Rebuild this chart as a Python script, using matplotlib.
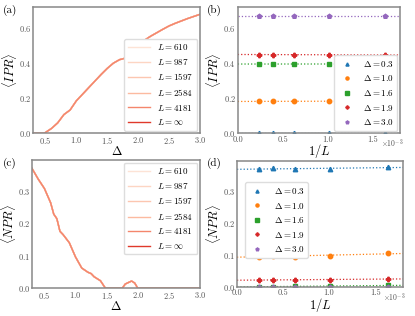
import numpy as np
import matplotlib
matplotlib.use("Agg")
import matplotlib.pyplot as plt

plt.rcParams['font.family'] = 'serif'
plt.rcParams['font.serif'] = ['cmr10', 'DejaVu Serif']
plt.rcParams['mathtext.fontset'] = 'cm'
plt.rcParams['axes.formatter.use_mathtext'] = True
plt.rcParams['axes.unicode_minus'] = False

# system sizes
sizes = [610, 987, 1597, 2584, 4181]
size_labels = [r'$L=610$', r'$L=987$', r'$L=1597$', r'$L=2584$', r'$L=4181$', r'$L=\infty$']
size_colors = ['#fde3d6', '#fdd5c3', '#fcc6b0', '#fcbaa0', '#f4866c', '#e0392b']

# panel (a): <IPR> vs Delta
delta_a = [0.3, 0.4, 0.48, 0.6, 0.7, 0.8, 0.9, 1.0, 1.2, 1.4, 1.5, 1.6, 1.7, 1.75, 1.8,
           1.9, 2.0, 2.05, 2.1, 2.2, 2.4, 2.5, 2.6, 2.8, 3.0]
ipr_a = [0.0, 0.0, 0.0, 0.028, 0.06, 0.107, 0.133, 0.185, 0.26, 0.335, 0.37, 0.40, 0.42,
         0.424, 0.43, 0.45, 0.47, 0.515, 0.53, 0.553, 0.593, 0.612, 0.627, 0.654, 0.678]

# panel (c): <NPR> vs Delta
delta_c = [0.3, 0.4, 0.5, 0.6, 0.65, 0.7, 0.75, 0.8, 0.9, 1.0, 1.1, 1.2, 1.25, 1.3, 1.4,
           1.48, 1.6, 1.75, 1.8, 1.9, 1.95, 2.0, 2.5, 3.0]
npr_c = [0.369, 0.336, 0.307, 0.263, 0.228, 0.214, 0.175, 0.165, 0.14, 0.096, 0.062, 0.049,
         0.045, 0.035, 0.023, 0.0, 0.0, 0.0, 0.013, 0.022, 0.016, 0.0, 0.0, 0.0]

# panels (b), (d): finite-size data vs 1/L
deltas = [r'$\Delta=0.3$', r'$\Delta=1.0$', r'$\Delta=1.6$', r'$\Delta=1.9$', r'$\Delta=3.0$']
markers = ['^', 'o', 's', 'P', 'p']
colors = ['C0', 'C1', 'C2', 'C3', 'C4']
ipr_b = [
    [0.002, 0.002, 0.002, 0.002, 0.002],
    [0.184, 0.183, 0.183, 0.182, 0.182],
    [0.395, 0.395, 0.396, 0.394, 0.395],
    [0.447, 0.447, 0.448, 0.449, 0.449],
    [0.671, 0.671, 0.671, 0.671, 0.671],
]
npr_d = [
    [0.376, 0.368, 0.369, 0.372, 0.370],
    [0.105, 0.098, 0.095, 0.098, 0.095],
    [0.005, 0.002, 0.002, 0.001, 0.001],
    [0.025, 0.023, 0.022, 0.022, 0.022],
    [0.001, 0.001, 0.001, 0.001, 0.001],
]

inv_L = 1.0 / np.array(sizes)
xmax = 1.1 * inv_L.max()

fig = plt.figure(figsize=(4.15, 3.16), dpi=100)
ax_a = fig.add_axes([0.0795, 0.578, 0.4025, 0.400])
ax_b = fig.add_axes([0.573, 0.578, 0.391, 0.400])
ax_c = fig.add_axes([0.077, 0.088, 0.405, 0.406])
ax_d = fig.add_axes([0.571, 0.092, 0.400, 0.399])

TICK = 6
LAB = 9


def style(ax):
    for s in ax.spines.values():
        s.set_color('#888888')
        s.set_linewidth(1.1)
    ax.tick_params(labelsize=TICK, colors='#555555', length=0, pad=1.5)


def curves(ax, x, y):
    ax.plot(x, y, color=size_colors[-1], lw=1.0, label=size_labels[-1], zorder=1)
    for i in range(len(sizes)):
        ax.plot(x, y, color=size_colors[i], lw=1.0, label=size_labels[i], zorder=2)
    h, l = ax.get_legend_handles_labels()
    order = list(range(1, len(h))) + [0]
    return [h[i] for i in order], [l[i] for i in order]


# (a)
h, l = curves(ax_a, delta_a, ipr_a)
ax_a.set_xlim(0.3, 3.0)
ax_a.set_ylim(0, 0.72)
ax_a.set_xticks([0.5, 1.0, 1.5, 2.0, 2.5, 3.0])
ax_a.set_yticks([0.0, 0.2, 0.4, 0.6])
ax_a.set_xlabel(r'$\Delta$', fontsize=LAB, labelpad=-1)
ax_a.set_ylabel(r'$\langle IPR\rangle$', fontsize=LAB, labelpad=0)
ax_a.legend(h, l, loc='lower right', fontsize=6.5, handlelength=2.5, labelspacing=0.5,
            edgecolor='#dddddd', framealpha=1, borderaxespad=0.3)
style(ax_a)

# (c)
h, l = curves(ax_c, delta_c, npr_c)
ax_c.set_xlim(0.3, 3.0)
ax_c.set_ylim(0, 0.395)
ax_c.set_xticks([0.5, 1.0, 1.5, 2.0, 2.5, 3.0])
ax_c.set_yticks([0.0, 0.1, 0.2, 0.3])
ax_c.set_xlabel(r'$\Delta$', fontsize=LAB, labelpad=-1)
ax_c.set_ylabel(r'$\langle NPR\rangle$', fontsize=LAB, labelpad=0)
ax_c.legend(h, l, loc='upper right', fontsize=6.5, handlelength=2.5, labelspacing=0.5,
            edgecolor='#dddddd', framealpha=1, borderaxespad=0.3)
style(ax_c)


def finite(ax, data, ylim, yticks, ylabel, legend_kw):
    xs = np.linspace(0, xmax, 50)
    for i, vals in enumerate(data):
        p = np.polyfit(inv_L, vals, 1)
        ax.plot(xs, np.polyval(p, xs), ':', color=colors[i], lw=0.9)
        ax.plot(inv_L, vals, markers[i], color=colors[i], ms=3.2, ls='none', label=deltas[i])
    ax.set_xlim(0, xmax)
    ax.set_ylim(*ylim)
    ax.set_yticks(yticks)
    ax.set_xticks([0.0, 0.5e-3, 1.0e-3, 1.5e-3])
    ax.set_xticklabels(['0.0', '0.5', '1.0', '1.5'])
    ax.text(0.88, -0.035, r'$\times10^{-3}$', transform=ax.transAxes, ha='left', va='top',
            fontsize=5.5, color='#555555')
    ax.set_xlabel(r'$1/L$', fontsize=LAB, labelpad=-1)
    ax.set_ylabel(ylabel, fontsize=LAB, labelpad=0)
    ax.legend(fontsize=6.5, markerscale=0.7, labelspacing=0.5, edgecolor='#dddddd',
              framealpha=1, **legend_kw)
    style(ax)


finite(ax_b, ipr_b, (0, 0.72), [0.0, 0.2, 0.4, 0.6], r'$\langle IPR\rangle$',
       dict(loc='lower right', borderaxespad=0.3))
finite(ax_d, npr_d, (0, 0.395), [0.0, 0.1, 0.2, 0.3], r'$\langle NPR\rangle$',
       dict(loc='center left', bbox_to_anchor=(0.02, 0.53)))

for txt, x, y in [('(a)', 0.008, 0.985), ('(b)', 0.498, 0.985),
                  ('(c)', 0.008, 0.500), ('(d)', 0.498, 0.500)]:
    fig.text(x, y, txt, fontsize=8, ha='left', va='top')

fig.savefig('out.png', dpi=100)
